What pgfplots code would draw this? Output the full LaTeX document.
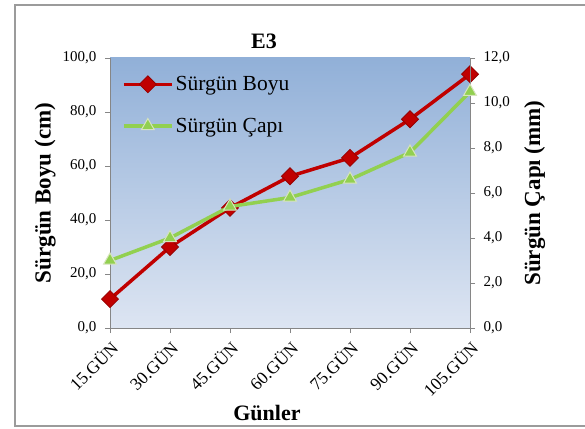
\documentclass[border=0pt]{standalone}
\usepackage{fontspec}
\setmainfont{Liberation Serif}
\usepackage{pgfplots}
\pgfplotsset{compat=1.18}
\definecolor{redline}{RGB}{192,0,0}
\definecolor{reddark}{RGB}{150,0,0}
\definecolor{greenline}{RGB}{146,208,80}
\definecolor{greenedge}{RGB}{215,228,189}
\definecolor{axisgray}{RGB}{134,134,134}
\definecolor{bgtop}{RGB}{145,176,216}
\definecolor{bgbot}{RGB}{221,229,242}
\definecolor{framegray}{RGB}{155,155,155}
\pgfplotsset{
 common/.style={
  at={(110pt,100pt)}, anchor=south west,
  scale only axis, width=360pt, height=270pt,
  xmin=0, xmax=6,
  axis line style={axisgray, line width=0.8pt},
  tick style={axisgray, line width=0.8pt},
  tick align=outside, major tick length=5pt,
  ticklabel style={font=\fontsize{15}{18}\selectfont},
  /pgf/number format/.cd, use comma, fixed, fixed zerofill, precision=1, assume math mode=true,
 },
 redstyle/.style={redline, line width=3.5pt, mark=square*, mark size=6pt,
   mark options={rotate=45, fill=redline, draw=reddark, line width=0.8pt}},
 greenstyle/.style={greenline, line width=3.5pt, mark=triangle*, mark size=7.5pt,
   mark options={fill=greenline, draw=greenedge, line width=1pt}},
}
\begin{document}
\begin{tikzpicture}
\path[use as bounding box] (0,0) rectangle (585pt,428pt);
\clip (0,0) rectangle (585pt,428pt);
\draw[framegray, line width=1.6pt] (15pt,2pt) rectangle (600pt,423pt);
\begin{axis}[common,
  axis background/.style={top color=bgtop, bottom color=bgbot},
  axis x line*=bottom, axis y line*=left,
  ymin=0, ymax=100, ytick={0,20,...,100},
  yticklabel style={xshift=-5pt},
  xtick={0,...,6},
  xticklabels={15.GÜN,30.GÜN,45.GÜN,60.GÜN,75.GÜN,90.GÜN,105.GÜN},
  xticklabel style={xshift=7pt, yshift=-9pt, rotate=45, anchor=east, font=\fontsize{17.5}{20}\selectfont},
  every axis title/.style={at={(axis description cs:0.428,1.06)}, anchor=center,
    font=\fontsize{22}{24}\selectfont\bfseries},
  title={E3},
  every axis x label/.style={at={(axis description cs:0.436,-0.315)}, anchor=center,
    font=\fontsize{22}{24}\selectfont\bfseries},
  xlabel={Günler},
  every axis y label/.style={at={(axis description cs:-0.18,0.5)}, anchor=center, rotate=90,
    font=\fontsize{23}{25}\selectfont\bfseries},
  ylabel={Sürgün Boyu (cm)},
]
\addplot[redstyle] coordinates {(0,10.7) (1,30.0) (2,44.5) (3,56.2) (4,63.0) (5,77.3) (6,94.0)};
\end{axis}
\begin{axis}[common,
  axis x line=none, axis y line*=right,
  ymin=0, ymax=12, ytick={0,2,...,12},
  yticklabel style={xshift=5pt},
  every axis y label/.style={at={(axis description cs:1.18,0.5)}, anchor=center, rotate=90,
    font=\fontsize{23}{25}\selectfont\bfseries},
  ylabel={Sürgün Çapı (mm)},
  legend style={at={(axis description cs:0.033,0.94)}, anchor=north west, draw=none, fill=none,
    font=\fontsize{21.5}{25}\selectfont, row sep=22pt, inner sep=0pt},
  legend cell align=left,
  legend image code/.code={\draw[mark repeat=2, mark phase=2, #1] plot coordinates {(0pt,0pt) (24pt,0pt) (48pt,0pt)};},
]
\addlegendimage{redstyle}
\addlegendentry{Sürgün Boyu}
\addplot[greenstyle] coordinates {(0,3.0) (1,4.0) (2,5.4) (3,5.8) (4,6.6) (5,7.8) (6,10.5)};
\addlegendentry{Sürgün Çapı}
\end{axis}
\end{tikzpicture}
\end{document}
